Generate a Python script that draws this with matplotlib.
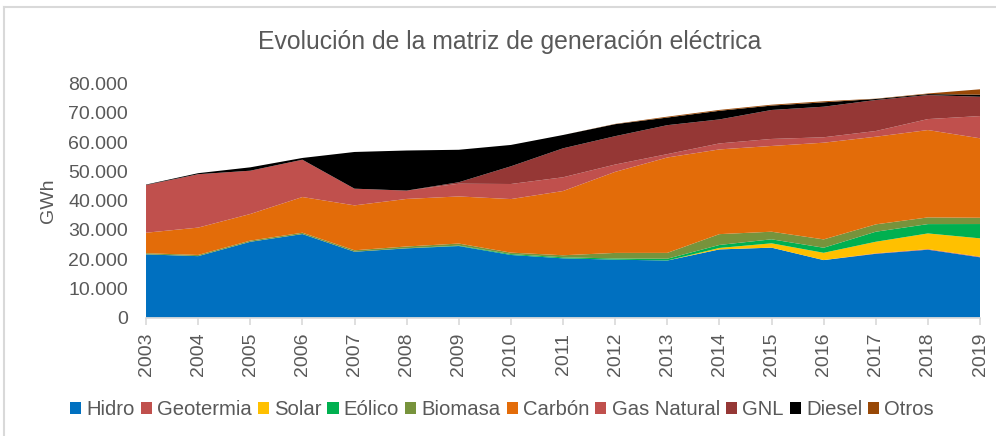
import numpy as np
import matplotlib
matplotlib.use("Agg")
import matplotlib.pyplot as plt
from matplotlib.patches import Patch
from matplotlib.lines import Line2D
from matplotlib.ticker import FuncFormatter

years = list(range(2003, 2020))

# GWh por fuente
hidro = [21600, 21000, 25900, 28550, 22500, 23650, 24450, 21400, 20250, 19800,
         19500, 23300, 23900, 19650, 21800, 23200, 20600]
geotermia = [0, 0, 0, 0, 0, 0, 0, 0, 0, 0, 0, 0, 0, 0, 150, 200, 200]
solar = [0, 0, 0, 0, 0, 0, 0, 0, 0, 0, 10, 500, 1480, 2490, 3970, 5360, 6280]
eolico = [0, 0, 0, 0, 0, 50, 150, 300, 350, 400, 600, 1020, 1370, 1730, 3420, 3190, 4890]
biomasa = [400, 400, 400, 450, 500, 600, 700, 500, 700, 1900, 2000, 3700, 2600, 2850,
           2520, 2290, 2150]
carbon = [7000, 9350, 9100, 12200, 15350, 16250, 16100, 18300, 21950, 27700, 32600,
          28950, 29300, 33050, 29950, 29850, 27150]
gas_natural = [16300, 18250, 14800, 12750, 5700, 2850, 4350, 5150, 4700, 2500, 1150,
               2050, 2400, 1850, 1950, 3750, 7600]
gnl = [0, 0, 0, 0, 0, 0, 500, 6050, 9900, 9700, 9900, 8200, 9900, 10450, 10600, 8200, 6600]
diesel = [150, 350, 1150, 600, 12550, 13700, 11100, 7300, 4550, 4100, 2600, 2950, 1500,
          1500, 350, 350, 700]
otros = [0, 0, 0, 0, 0, 0, 0, 0, 0, 100, 300, 300, 300, 350, 100, 200, 1850]

labels = ["Hidro", "Geotermia", "Solar", "Eólico", "Biomasa", "Carbón",
          "Gas Natural", "GNL", "Diesel", "Otros"]
colors = ["#0070C0", "#C0504D", "#FFC000", "#00B050", "#77933C", "#E36C09",
          "#C0504D", "#953735", "#000000", "#984807"]

plt.rcParams["font.family"] = ["Liberation Sans", "DejaVu Sans"]
txt = "#595959"

fig = plt.figure(figsize=(9.96, 4.36), dpi=100)
ax = fig.add_axes([0.1466, 0.2716, 0.8374, 0.5369])

series = [hidro, geotermia, solar, eolico, biomasa, carbon,
          gas_natural, gnl, diesel, otros]
ax.stackplot(years, *series, colors=colors, linewidth=0)

ax.set_xlim(2003, 2019)
ax.set_ylim(0, 80000)
ax.set_xticks(years)
ax.set_yticks(np.arange(0, 80001, 10000))
ax.yaxis.set_major_formatter(FuncFormatter(
    lambda v, pos: "0" if v == 0 else f"{int(v):,}".replace(",", ".")))

for s in ["top", "right", "left"]:
    ax.spines[s].set_visible(False)
ax.spines["bottom"].set_color("#D9D9D9")
ax.spines["bottom"].set_linewidth(1.2)

ax.tick_params(axis="x", rotation=90, labelsize=14, labelcolor=txt,
               color="#D9D9D9", length=5, width=1.2, pad=6)
ax.tick_params(axis="y", labelsize=14, labelcolor=txt, length=0, pad=13)
ax.set_ylabel("GWh", fontsize=14, color=txt, labelpad=8)

fig.text(0.512, 0.904, "Evolución de la matriz de generación eléctrica",
         ha="center", va="center", fontsize=17.8, color=txt)

handles = [Patch(facecolor=c, edgecolor="none") for c in colors]
fig.legend(handles, labels, loc="center", bbox_to_anchor=(0.504, 0.06),
           ncol=10, frameon=False, fontsize=14.6, labelcolor=txt,
           handlelength=0.55, handleheight=0.55, handletextpad=0.25,
           columnspacing=0.3, borderpad=0)

# marco exterior
fig.add_artist(Line2D([0.004, 1.0], [1 - 7 / 436, 1 - 7 / 436],
                      transform=fig.transFigure, color="#D9D9D9", lw=1.5))
fig.add_artist(Line2D([0.004, 0.004], [0.0, 1 - 7 / 436],
                      transform=fig.transFigure, color="#D9D9D9", lw=1.5))

fig.savefig("out.png", dpi=100)
